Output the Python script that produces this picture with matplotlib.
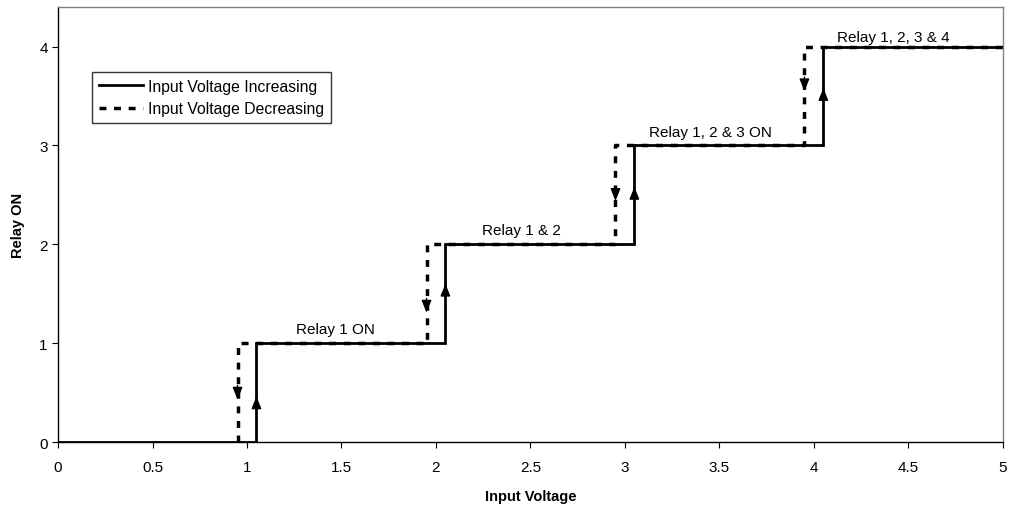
import matplotlib
matplotlib.use("Agg")
import matplotlib.pyplot as plt

plt.rcParams['font.family'] = ['Liberation Sans', 'DejaVu Sans']

# Data
inc_x = [0, 1.05, 1.05, 2.05, 2.05, 3.05, 3.05, 4.05, 4.05, 5]
inc_y = [0, 0, 1, 1, 2, 2, 3, 3, 4, 4]
dec_x = [0.95, 0.95, 1.95, 1.95, 2.95, 2.95, 3.95, 3.95, 5]
dec_y = [0, 1, 1, 2, 2, 3, 3, 4, 4]
up_arrow_x = [1.05, 2.05, 3.05, 4.05]
up_arrow_y = [0.49, 1.63, 2.61, 3.61]
down_arrow_x = [0.95, 1.95, 2.95, 3.95]
down_arrow_y = [0.40, 1.28, 2.41, 3.52]
labels = ["Relay 1 ON", "Relay 1 & 2", "Relay 1, 2 & 3 ON", "Relay 1, 2, 3 & 4"]
label_x = [1.47, 2.45, 3.45, 4.42]
label_y = [1.14, 2.14, 3.14, 4.1]
xticks = [0, 0.5, 1, 1.5, 2, 2.5, 3, 3.5, 4, 4.5, 5]
yticks = [0, 1, 2, 3, 4]

fig = plt.figure(figsize=(10.13, 5.06), dpi=100)
ax = fig.add_axes([0.0573, 0.1245, 0.9327, 0.8595])

ax.plot(inc_x, inc_y, color='black', lw=2, label='Input Voltage Increasing', solid_joinstyle='miter', zorder=2)
ax.plot(dec_x, dec_y, color='black', lw=2.5, ls=(0, (2, 2.2)), label='Input Voltage Decreasing', zorder=3)

for x, y in zip(up_arrow_x, up_arrow_y):
    ax.annotate('', xy=(x, y), xytext=(x, y - 0.2),
                arrowprops=dict(arrowstyle='-|>,head_length=0.75,head_width=0.3', color='black', lw=1),
                zorder=4)
for x, y in zip(down_arrow_x, down_arrow_y):
    ax.annotate('', xy=(x, y), xytext=(x, y + 0.2),
                arrowprops=dict(arrowstyle='-|>,head_length=0.75,head_width=0.3', color='black', lw=1),
                zorder=4)

for t, x, y in zip(labels, label_x, label_y):
    ax.text(x, y, t, ha='center', va='center', fontsize=11)

ax.set_xlim(0, 5)
ax.set_ylim(0, 4.4)
ax.set_xticks(xticks)
ax.set_xticklabels([f"{v:g}" for v in xticks])
ax.set_yticks(yticks)
ax.tick_params(direction='out', length=4, labelsize=11, colors='black')
ax.tick_params(axis='x', pad=9)
ax.set_xlabel('Input Voltage', fontsize=10.5, fontweight='bold', labelpad=11)
ax.set_ylabel('Relay ON', fontsize=10.5, fontweight='bold', labelpad=10)

for s in ['top', 'right']:
    ax.spines[s].set_color('#808080')
    ax.spines[s].set_linewidth(1)
for s in ['left', 'bottom']:
    ax.spines[s].set_color('black')
    ax.spines[s].set_linewidth(1)

leg = ax.legend(loc='upper left', bbox_to_anchor=(0.036, 0.851), fontsize=11.3, frameon=True,
                fancybox=False, edgecolor='black', borderpad=0.45, labelspacing=0.45,
                handlelength=2.8, handletextpad=0.3, borderaxespad=0)
leg.get_frame().set_linewidth(1)

fig.savefig('out.png', dpi=100)
